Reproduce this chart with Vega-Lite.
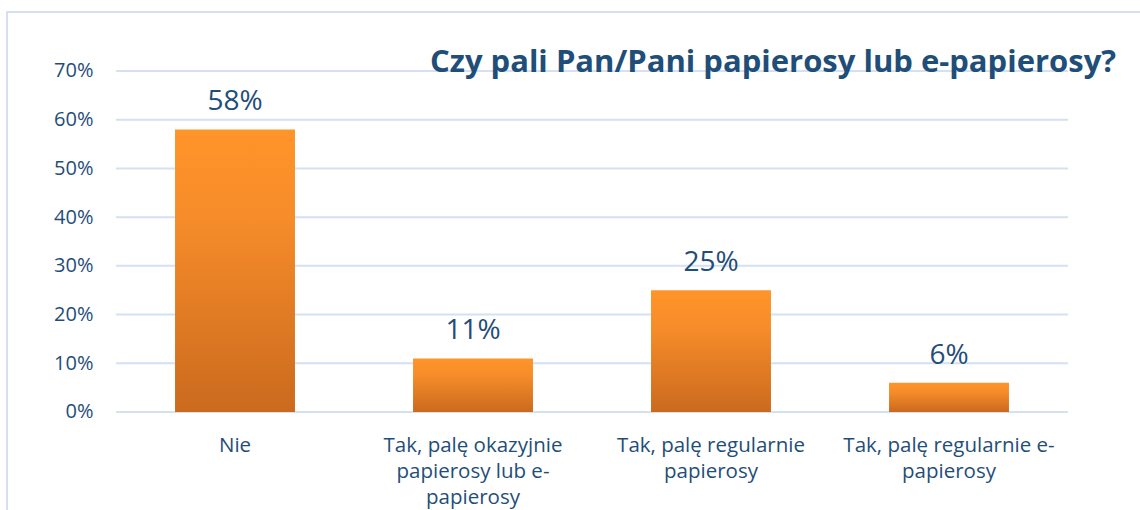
{
  "$schema": "https://vega.github.io/schema/vega-lite/v6.json",
  "autosize": {"type": "none"},
  "padding": {"left": 7, "top": 12, "right": 0, "bottom": 0},
  "width": 1170,
  "height": 508,
  "background": "white",
  "config": {
    "view": {"stroke": "#D3E1F2", "strokeWidth": 2},
    "font": "Open Sans"
  },
  "title": {
    "text": "Czy pali Pan/Pani papierosy lub e-papierosy?",
    "orient": "top",
    "anchor": "start",
    "frame": "group",
    "dx": 423,
    "dy": 67,
    "offset": 0,
    "font": "Open Sans",
    "fontSize": 31,
    "fontWeight": "bold",
    "color": "#1F4E79"
  },
  "datasets": {
    "answers": [
      {"odpowiedz": "Nie", "udzial": 0.58},
      {"odpowiedz": "Tak, palę okazyjnie papierosy lub e-papierosy", "udzial": 0.11},
      {"odpowiedz": "Tak, palę regularnie papierosy", "udzial": 0.25},
      {"odpowiedz": "Tak, palę regularnie e-papierosy", "udzial": 0.06}
    ],
    "grid": [
      {"v": 0}, {"v": 0.1}, {"v": 0.2}, {"v": 0.3}, {"v": 0.4}, {"v": 0.5}, {"v": 0.6}, {"v": 0.7}
    ]
  },
  "encoding": {
    "x": {
      "field": "odpowiedz",
      "type": "nominal",
      "sort": null,
      "scale": {
        "domain": ["Nie", "Tak, palę okazyjnie papierosy lub e-papierosy", "Tak, palę regularnie papierosy", "Tak, palę regularnie e-papierosy"],
        "paddingInner": 0.496,
        "paddingOuter": 0.706
      },
      "axis": {
        "title": null,
        "orient": "bottom",
        "offset": -108,
        "domain": false,
        "ticks": false,
        "labelAngle": 0,
        "labelPadding": 23,
        "labelFontSize": 20.5,
        "labelColor": "#1F4E79",
        "labelLimit": 0,
        "labelLineHeight": 26,
        "labelAlign": "center",
        "labelBaseline": "top",
        "labelExpr": "datum.value == 'Tak, palę okazyjnie papierosy lub e-papierosy' ? ['Tak, palę okazyjnie', 'papierosy lub e-', 'papierosy'] : datum.value == 'Tak, palę regularnie papierosy' ? ['Tak, palę regularnie', 'papierosy'] : datum.value == 'Tak, palę regularnie e-papierosy' ? ['Tak, palę regularnie e-', 'papierosy'] : datum.value"
      }
    }
  },
  "layer": [
    {
      "data": {"name": "grid"},
      "mark": {"type": "rule", "color": "#D3E1F2", "strokeWidth": 2},
      "encoding": {
        "x": {"datum": "Nie", "bandPosition": -0.492},
        "x2": {"datum": "Tak, palę regularnie e-papierosy", "bandPosition": 1.492},
        "y": {
          "field": "v",
          "type": "quantitative",
          "scale": {"domain": [-0.2217, 0.8211], "nice": false, "zero": false},
          "axis": {
            "title": null,
            "values": [0, 0.1, 0.2, 0.3, 0.4, 0.5, 0.6, 0.7],
            "format": ".0%",
            "grid": false,
            "domain": false,
            "ticks": false,
            "offset": -86,
            "labelPadding": 0,
            "labelFontSize": 20,
            "labelColor": "#1F4E79",
            "labelBaseline": "middle"
          }
        }
      }
    },
    {
      "data": {"name": "answers"},
      "mark": {
        "type": "bar",
        "color": {
          "gradient": "linear",
          "x1": 0, "y1": 0, "x2": 0, "y2": 1,
          "stops": [
            {"offset": 0, "color": "#FF9429"},
            {"offset": 0.3, "color": "#F78D2A"},
            {"offset": 1, "color": "#CB6A1E"}
          ]
        }
      },
      "encoding": {
        "y": {"field": "udzial", "type": "quantitative"},
        "y2": {"datum": 0}
      }
    },
    {
      "data": {"name": "answers"},
      "mark": {
        "type": "text",
        "baseline": "alphabetic",
        "dy": -19,
        "fontSize": 28,
        "color": "#1F4E79"
      },
      "encoding": {
        "y": {"field": "udzial", "type": "quantitative"},
        "text": {"field": "udzial", "type": "quantitative", "format": ".0%"}
      }
    }
  ]
}
